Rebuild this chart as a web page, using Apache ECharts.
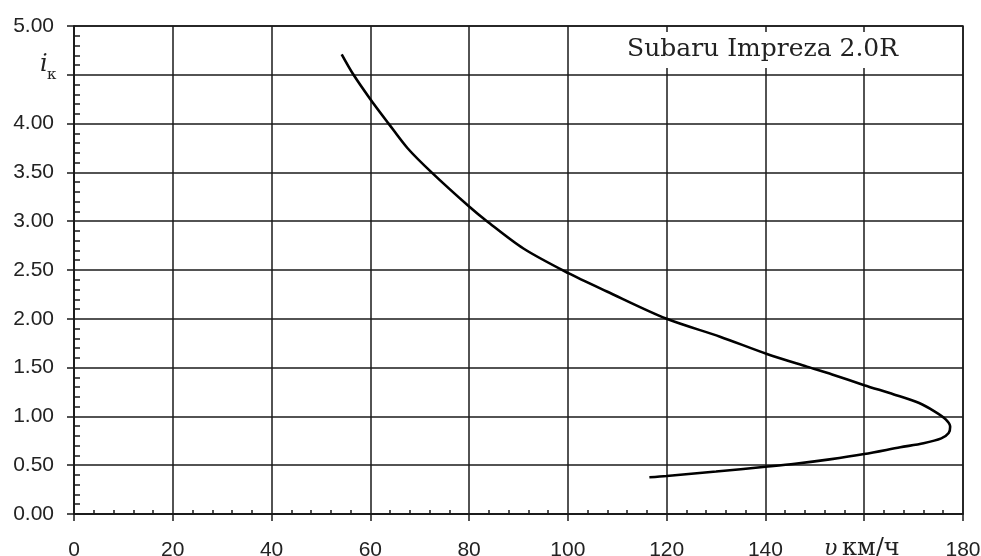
<!DOCTYPE html>
<html>
<head>
<meta charset="utf-8">
<script src="https://cdn.jsdelivr.net/npm/echarts@6/dist/echarts.min.js"></script>
<style>
html,body{margin:0;padding:0;background:#fff;}
#chart{width:981px;height:556px;}
</style>
</head>
<body>
<div id="chart"></div>
<script>
// Speed v, km/h (x) and gear ratio i_k (y) from top to bottom
const speed = [54.2, 56.6, 60, 63.7, 67.5, 72.4, 80, 83.6, 91, 100, 107.9, 120, 130.8, 140.3, 148.4, 153.5, 160, 166, 171, 174.3, 176.5, 177.4, 177.1, 175.6, 172, 167.3, 160, 153, 146, 140, 130, 120, 116.5];
const ratio = [4.71, 4.5, 4.25, 4.0, 3.75, 3.5, 3.15, 3.0, 2.72, 2.47, 2.28, 2.0, 1.817, 1.64, 1.51, 1.43, 1.32, 1.225, 1.14, 1.05, 0.97, 0.895, 0.83, 0.775, 0.725, 0.683, 0.614, 0.56, 0.515, 0.484, 0.435, 0.389, 0.376];
const xTicks = [0, 20, 40, 60, 80, 100, 120, 140, 160, 180];
const yTicks = [0, 0.5, 1, 1.5, 2, 2.5, 3, 3.5, 4, 4.5, 5];
const titleText = 'Subaru Impreza 2.0R';
const xName = 'км/ч';
const xSymbol = 'υ';
const ySymbol = 'i';
const ySub = 'к';

const points = speed.map((v, k) => [v, ratio[k]]);
const lineColor = '#1a1a1a';
const labelColor = '#222';

const chart = echarts.init(document.getElementById('chart'), null, {renderer: 'canvas'});
chart.setOption({
  animation: false,
  backgroundColor: '#fff',
  grid: {left: 74, right: 18, top: 26, bottom: 42, show: true, borderColor: lineColor, borderWidth: 1.5,
         containLabel: false, outerBoundsMode: 'none'},
  xAxis: {
    type: 'value', min: xTicks[0], max: xTicks[xTicks.length - 1], interval: 20,
    axisLine: {show: true, lineStyle: {color: lineColor, width: 1.5}},
    axisTick: {show: true, inside: false, length: 7, lineStyle: {color: lineColor, width: 1.5}},
    minorTick: {show: true, splitNumber: 5, length: -4, lineStyle: {color: lineColor, width: 1.5}},
    splitLine: {show: true, lineStyle: {color: lineColor, width: 1.5}},
    axisLabel: {
      margin: 26, fontFamily: 'Liberation Sans', fontSize: 21, lineHeight: 21, color: labelColor,
      formatter: v => v === 160 ? '' : String(v)
    }
  },
  yAxis: {
    type: 'value', min: yTicks[0], max: yTicks[yTicks.length - 1], interval: 0.5,
    axisLine: {show: true, lineStyle: {color: lineColor, width: 1.5}},
    axisTick: {show: true, inside: false, length: 7, lineStyle: {color: lineColor, width: 1.5}},
    minorTick: {show: true, splitNumber: 5, length: -6, lineStyle: {color: lineColor, width: 1.5}},
    splitLine: {show: true, lineStyle: {color: lineColor, width: 1.5}},
    axisLabel: {
      margin: 20, fontFamily: 'Liberation Sans', fontSize: 21, lineHeight: 21, color: labelColor,
      formatter: v => v === 4.5 ? '' : v.toFixed(2)
    }
  },
  graphic: [
    {type: 'text', left: 40, top: 53, z: 10, style: {text: ySymbol, font: 'italic 24px "DejaVu Serif"', fill: labelColor}},
    {type: 'text', left: 47, top: 68, z: 10, style: {text: ySub, font: '15px "DejaVu Serif"', fill: labelColor}},
    {type: 'text', left: 824, top: 538, z: 10, style: {text: xSymbol, font: 'italic 22px "DejaVu Serif"', fill: labelColor}},
    {type: 'text', left: 842, top: 537, z: 10, style: {text: xName, font: '24px "DejaVu Serif"', fill: labelColor}},
    {type: 'text', left: 612, top: 32, z: 10, style: {text: titleText, font: '25px "DejaVu Serif"', fill: labelColor, backgroundColor: '#fff', padding: [5, 15, 6, 15]}}
  ],
  series: [{
    type: 'line', data: points, smooth: 0.3, showSymbol: false, symbol: 'none',
    lineStyle: {color: '#000', width: 2.6}, z: 5
  }]
});
</script>
</body>
</html>
